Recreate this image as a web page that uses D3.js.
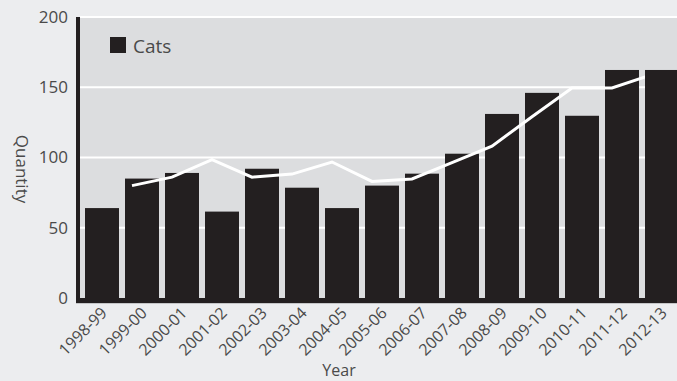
<!DOCTYPE html>
<html><head><meta charset="utf-8">
<script src="https://cdn.jsdelivr.net/npm/d3@7"></script>
<style>
html,body{margin:0;padding:0;background:#ecedef;}
svg{display:block;font-family:"Open Sans",sans-serif;}
</style>
</head><body>
<svg id="chart" width="677" height="381"></svg>
<script>
const years = ["1998-99","1999-00","2000-01","2001-02","2002-03","2003-04","2004-05","2005-06","2006-07","2007-08","2008-09","2009-10","2010-11","2011-12","2012-13"];
const cats = [64, 85, 89, 61.5, 92, 78.5, 64, 80, 88.5, 102.7, 131, 146, 129.7, 162.3, 162.3];
const trendYears = years.slice(1);
const trend = [80, 86, 98.4, 86, 88.2, 96.8, 83, 84.7, 96.3, 108, 129, 149.5, 149.5, 159];
const yTicks = [0, 50, 100, 150, 200];
const seriesName = "Cats";

const svg = d3.select("#chart");
const W = 677;
const plot = {left: 80, top: 17, bottom: 298};

const x = d3.scaleBand(years, [82, 682]).paddingInner(0.15).paddingOuter(0.075);
const xLine = d3.scalePoint(years, [92, 652]);
const y = d3.scaleLinear([0, 200], [plot.bottom, plot.top]);

const ink = "#231f20", txt = "#4a4a4a";

// plot background
svg.append("rect").attr("x", plot.left).attr("y", y(200)).attr("width", W - plot.left).attr("height", y(0) - y(200)).attr("fill", "#dcdddf");

// gridlines
svg.append("g").selectAll("line").data(yTicks.filter(d => d > 0)).join("line")
  .attr("x1", plot.left).attr("x2", W)
  .attr("y1", d => y(d)).attr("y2", d => y(d))
  .attr("stroke", "#fff").attr("stroke-width", 2);

// bars (all but last)
const barData = years.map((yr, i) => ({yr, v: cats[i]}));
const drawBars = (g, data) => g.selectAll("rect").data(data).join("rect")
  .attr("x", d => x(d.yr)).attr("width", x.bandwidth())
  .attr("y", d => y(d.v)).attr("height", d => y(0) - y(d.v))
  .attr("fill", ink);
drawBars(svg.append("g"), barData.slice(0, -1));

// trend line
const line = d3.line().x(d => xLine(d.yr)).y(d => y(d.v));
svg.append("path").datum(trendYears.map((yr, i) => ({yr, v: trend[i]})))
  .attr("d", line).attr("fill", "none").attr("stroke", "#fff").attr("stroke-width", 3);

// last bar on top
drawBars(svg.append("g"), barData.slice(-1));

// axis lines
svg.append("rect").attr("x", 76).attr("y", y(200)).attr("width", 4).attr("height", y(0) - y(200) + 5).attr("fill", ink);
svg.append("rect").attr("x", 76).attr("y", y(0)).attr("width", W - 76).attr("height", 5).attr("fill", ink);
svg.append("line").attr("x1", 76).attr("x2", W).attr("y1", y(0) + 5.5).attr("y2", y(0) + 5.5).attr("stroke", "#c4c5c7").attr("stroke-width", 1);

// y axis labels
const yAxis = svg.append("g").attr("transform", `translate(${plot.left},0)`)
  .call(d3.axisLeft(y).tickValues(yTicks).tickSize(0).tickPadding(12));
yAxis.select(".domain").remove();
yAxis.selectAll("text").attr("font-size", 17).attr("fill", txt).attr("font-family", "Open Sans, sans-serif");

// x axis labels
const xAxis = svg.append("g").attr("transform", `translate(0,${plot.bottom + 5})`)
  .call(d3.axisBottom(x).tickSize(0).tickPadding(0));
xAxis.select(".domain").remove();
xAxis.selectAll("text")
  .attr("font-size", 16).attr("fill", txt).attr("font-family", "Open Sans, sans-serif")
  .attr("text-anchor", "end")
  .attr("dy", null).attr("y", 0)
  .attr("transform", "translate(6,11) rotate(-45)");

// axis titles
svg.append("text").attr("x", 339).attr("y", 376).attr("text-anchor", "middle")
  .attr("font-size", 16).attr("fill", txt).text("Year");
svg.append("text").attr("transform", "translate(16,169) rotate(90)").attr("text-anchor", "middle")
  .attr("font-size", 17).attr("fill", txt).text("Quantity");

// legend
svg.append("rect").attr("x", 110).attr("y", 37).attr("width", 16).attr("height", 16).attr("fill", ink);
svg.append("text").attr("x", 133).attr("y", 53).attr("font-size", 19).attr("fill", txt).text(seriesName);
</script>
</body></html>
